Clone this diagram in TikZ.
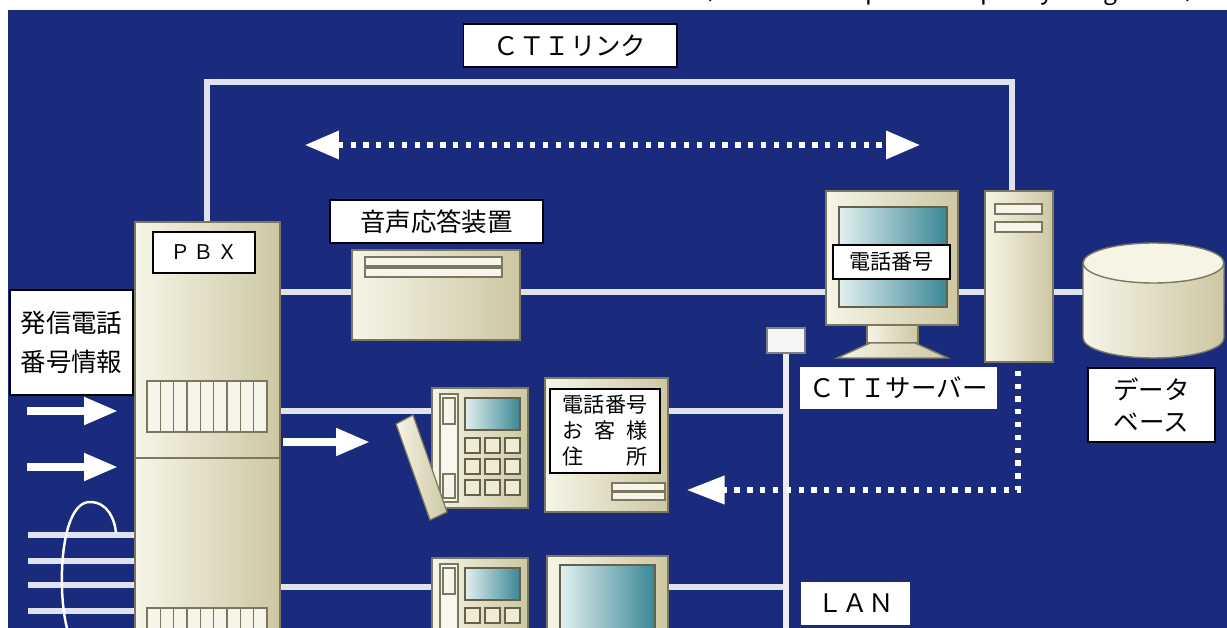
\documentclass[tikz,border=0pt]{standalone}
\usepackage{fontspec}
\newfontfamily\jp{Noto Sans CJK JP}
\usepackage{tikz}
\usetikzlibrary{positioning, arrows.meta, fit, backgrounds}
\usepackage{xcolor}
\definecolor{navy}{HTML}{1A2A7C}
\definecolor{cream}{HTML}{EFECD3}
\definecolor{creamdark}{HTML}{CDC7A3}
\definecolor{edge}{HTML}{7C785F}
\definecolor{wirecol}{HTML}{DFE2EF}
\definecolor{scrlight}{HTML}{E2F0EF}
\definecolor{scrdark}{HTML}{3A8795}

\tikzset{
  lbl/.style={draw=black, line width=0.6pt, fill=white, inner sep=0pt, align=center},
  tag/.style={fill=white, inner sep=0pt, align=center},
  device/.style={draw=edge, line width=0.8pt, left color=cream!55!white, right color=creamdark, inner sep=0pt},
  screen/.style={draw=edge!80!black, line width=0.8pt, left color=scrlight, right color=scrdark},
  slot/.style={draw=edge, line width=0.7pt, fill=cream!50!white},
  wire/.style={draw=wirecol, line width=3pt},
  dots/.style={draw=white, line width=3pt, dash pattern=on 3pt off 4.3pt},
  bigarrow/.style={draw=white, line width=4.4pt, -{Triangle[length=0.68cm, width=0.52cm]}},
  smalltxt/.style={font=\jp\fontsize{12}{14.8}\selectfont},
}

\begin{document}
\begin{tikzpicture}[x=0.02cm, y=-0.02cm, every node/.style={font=\jp\fontsize{14.5}{22.5}\selectfont}]
  \useasboundingbox (0,0) rectangle (1227,628);

  % heading line, cut off by the panel
  \begin{scope}
    \clip (0,0) rectangle (1227,10);
    \node[anchor=base east, font=\jp\fontsize{14}{14}\selectfont] (caption) at (1216,-0.5)
      {（ＣＴＩ：Computer Telephony Integration）};
  \end{scope}

  % devices
  \node[device, fit={(135,222) (280,640)}] (pbx) {};
  \draw[edge, line width=0.8pt] (pbx.west |- 0,458) -- (pbx.east |- 0,458);
  \foreach \gy in {381,608} {
    \path[slot] (147,\gy) rectangle (267,\gy+51);
    \foreach \k in {1,...,8}
      \draw[edge, line width=0.9pt] (147+\k*13.33,\gy) -- ++(0,51);
  }

  \node[device, fit={(352,250) (520,340)}] (ivr) {};
  \path[slot] (365,257) rectangle (502,266) (365,268) rectangle (502,277);

  \node[device, fit={(826,191) (958,325)}] (monitor) {};
  \path[screen] (839,207) rectangle (947,307);
  \path[device] (867,325) rectangle (918,343);
  \path[device] (870,343) -- (915,343) -- (948,358) -- (837,358) -- cycle;

  \node[device, fit={(985,191) (1053,362)}] (server) {};
  \path[slot] (995,204) rectangle (1042,214) (995,222) rectangle (1042,232);

  % database
  \node[fit={(1083,243) (1224,358)}, inner sep=0pt] (db) {};
  \path[device] (1083,263) -- (1083,338)
    arc[start angle=180, end angle=360, x radius=1.41cm, y radius=0.4cm] -- (1224,263) -- cycle;
  \path[draw=edge, line width=0.8pt, fill=cream!60!white] (1153.5,263) ellipse[x radius=1.41cm, y radius=0.4cm];

  \node[fit={(767,328) (805,353)}, draw=gray, line width=0.6pt, fill=white!92!gray, inner sep=0pt] (hub) {};

  % desk phones
  \foreach \py/\nm in {388/phoneA, 558/phoneB} {
    \node[device, fit={(432,\py) (528,\py+120)}] (\nm) {};
    \path[draw=edge, line width=0.6pt, fill=cream!35!white] (440,\py+6) rectangle (458,\py+114);
    \path[slot] (443,\py+10) rectangle (455,\py+36) (443,\py+86) rectangle (455,\py+110);
    \path[screen] (465,\py+10) rectangle (520,\py+42);
    \foreach \i in {0,1,2}
      \foreach \j in {0,1,2}
        \path[draw=edge!80!black, line width=0.9pt, fill=cream] (465+\i*20,\py+50+\j*21) rectangle ++(15,15);
  }
  \path[draw=edge, line width=0.7pt, left color=cream!60!white, right color=creamdark]
    (396,424) -- (413,415) -- (447,512) -- (430,520) -- cycle;

  % terminals
  \node[device, fit={(545,378) (668,512)}] (termA) {};
  \path[slot] (612,483) rectangle (665,491) (612,492) rectangle (665,500);
  \node[device, fit={(547,556) (668,640)}] (termB) {};
  \path[screen] (560,565) rectangle (655,640);

  % lines and links
  \coordinate (linkL) at (207,82);
  \coordinate (linkR) at (1012,82);
  \coordinate (bus) at (0,292);
  \coordinate (rowA) at (0,411);
  \coordinate (rowB) at (0,587);
  \coordinate (lanEnd) at (786,640);
  \coordinate (syncL) at (305,145);
  \coordinate (syncR) at (920,145);
  \coordinate (retCorner) at (1018,490);
  \coordinate (retTip) at (687,490);
  \coordinate (inA) at (27,411);
  \coordinate (inB) at (27,467);
  \coordinate (outA) at (283,442);
  \begin{scope}[on background layer]
    \fill[white] (0,0) rectangle (1227,628);
    \fill[navy] (8,10) rectangle (1227,640);
    \draw[wire] (pbx.north -| linkL) -- (linkL) -- (linkR) -- (server.north -| linkR);
    \draw[wire] (pbx.east |- bus) -- (ivr.west |- bus);
    \draw[wire] (ivr.east |- bus) -- (monitor.west |- bus);
    \draw[wire] (monitor.east |- bus) -- (server.west |- bus);
    \draw[wire] (server.east |- bus) -- (db.west |- bus);
    \draw[wire] (pbx.east |- rowA) -- (phoneA.west |- rowA);
    \draw[wire] (pbx.east |- rowB) -- (phoneB.west |- rowB);
    \draw[wire] (termA.east |- rowA) -- (hub.south |- rowA);
    \draw[wire] (termB.east |- rowB) -- (hub.south |- rowB);
    \draw[draw=white!85!gray, line width=3pt] (hub.south) -- (lanEnd);
    \foreach \ly in {535,561,585,611}
      \draw[wire] (28,\ly) -- (135,\ly);
  \end{scope}
  \draw[white, line width=1.4pt] (67,628) .. controls (57,590) and (60,502) .. (90,502)
    .. controls (108,502) and (115,520) .. (116,533);

  \draw[dots, {Triangle[length=0.68cm, width=0.55cm]}-{Triangle[length=0.68cm, width=0.55cm]}] (syncL) -- (syncR);
  \draw[dots, -{Triangle[length=0.75cm, width=0.55cm]}] ([yshift=-0.16cm]server.south -| retCorner) -- (retCorner) -- (retTip);

  \draw[bigarrow] (inA) -- ++(91,0);
  \draw[bigarrow] (inB) -- ++(91,0);
  \draw[bigarrow] (outA) -- ++(87,0);

  % labels
  \node[lbl, minimum width=4.28cm, minimum height=0.86cm] (ctilink) at (570,45.5) {ＣＴＩリンク};
  \node[lbl, minimum width=2.04cm, minimum height=0.82cm, font=\jp\fontsize{11.5}{14}\selectfont] (pbxtag) at (204,252.5) {Ｐ\,Ｂ\,Ｘ};
  \node[lbl, minimum width=2.46cm, minimum height=2.1cm] (caller) at (71.5,342.5) {発信電話\\番号情報};
  \node[lbl, minimum width=4.26cm, minimum height=0.86cm] (ivrtag) at (436.5,221.5) {音声応答装置};
  \node[lbl, minimum width=2.34cm, minimum height=0.68cm, smalltxt] (montag) at (891.5,262) {電話番号};
  \node[tag, minimum width=3.94cm, minimum height=0.84cm] (srvtag) at (898.5,388) {ＣＴＩサーバー};
  \node[lbl, minimum width=2.54cm, minimum height=1.48cm, font=\jp\fontsize{14.5}{18.5}\selectfont] (dbtag) at (1151.5,405) {データ\\ベース};
  \node[tag, minimum width=2.18cm, minimum height=0.86cm] (lantag) at (855.5,603.5) {ＬＡＮ};
  \node[lbl, minimum width=2.2cm, minimum height=1.68cm, smalltxt] (custtag) at (605,431)
    {電話番号\\\makebox[4em][s]{お\hfill 客\hfill 様}\\\makebox[4em][s]{住\hfill 所}};
\end{tikzpicture}
\end{document}
